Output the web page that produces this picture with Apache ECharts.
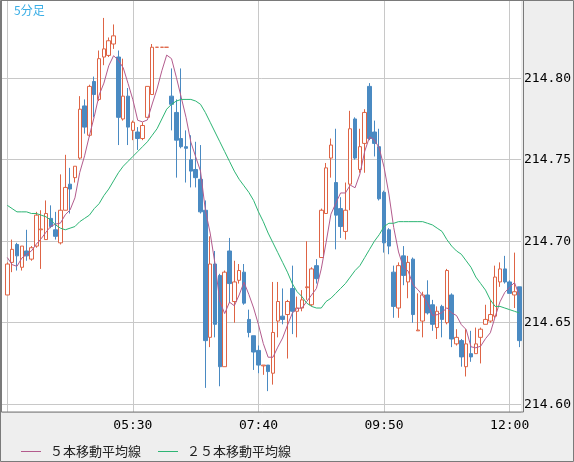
<!DOCTYPE html>
<html>
<head>
<meta charset="utf-8">
<script src="https://cdn.jsdelivr.net/npm/echarts@6/dist/echarts.min.js"></script>
<style>
  html, body { margin: 0; padding: 0; background: #eeeeee; }
  #chart { width: 574px; height: 462px; }
</style>
</head>
<body>
<div id="chart"></div>
<script>
// 5-minute bars 03:20 .. 12:10
const opens = [
  214.667, 214.687, 214.698, 214.684, 214.694, 214.689, 214.697, 214.707, 214.701, 214.714,
  214.707, 214.699, 214.719, 214.735, 214.739, 214.751, 214.783, 214.765, 214.798, 214.787,
  214.813, 214.814, 214.821, 214.813, 214.775, 214.789, 214.768, 214.767, 214.763, 214.776,
  214.790, 214.819, 214.819, 214.819, 214.789, 214.779, 214.763, 214.758, 214.750, 214.744,
  214.738, 214.719, 214.641, 214.686, 214.679, 214.623, 214.694, 214.663, 214.676, 214.681,
  214.652, 214.642, 214.633, 214.6235, 214.624, 214.619, 214.651, 214.654, 214.655, 214.671,
  214.657, 214.659, 214.6715, 214.661, 214.685, 214.690, 214.717, 214.751, 214.736, 214.720,
  214.706, 214.735, 214.775, 214.744, 214.760, 214.795, 214.767, 214.758, 214.730, 214.707,
  214.681, 214.659, 214.691, 214.675, 214.689, 214.645, 214.651, 214.667, 214.661, 214.647,
  214.660, 214.650, 214.667, 214.637, 214.639, 214.623, 214.631, 214.631, 214.641, 214.649,
  214.651, 214.654, 214.675, 214.683, 214.675, 214.667, 214.672
];
const closes = [
  214.686, 214.695, 214.691, 214.697, 214.691, 214.696, 214.716, 214.7075, 214.717, 214.709,
  214.703, 214.719, 214.733, 214.732, 214.746, 214.781, 214.770, 214.795, 214.790, 214.812,
  214.818, 214.823, 214.826, 214.776, 214.789, 214.770, 214.773, 214.763, 214.771, 214.795,
  214.819, 214.819, 214.819, 214.819, 214.784, 214.762, 214.758, 214.757, 214.743, 214.739,
  214.718, 214.639, 214.686, 214.649, 214.623, 214.681, 214.674, 214.675, 214.682, 214.662,
  214.644, 214.632, 214.624, 214.624, 214.620, 214.644, 214.663, 214.652, 214.663, 214.657,
  214.659, 214.664, 214.672, 214.683, 214.677, 214.719, 214.745, 214.759, 214.716, 214.709,
  214.719, 214.769, 214.751, 214.758, 214.779, 214.763, 214.760, 214.726, 214.699, 214.697,
  214.660, 214.685, 214.679, 214.687, 214.655, 214.6455, 214.667, 214.656, 214.649, 214.657,
  214.652, 214.682, 214.640, 214.641, 214.629, 214.637, 214.629, 214.637, 214.646, 214.652,
  214.655, 214.678, 214.683, 214.675, 214.668, 214.669, 214.639
];
const lows = [
  214.667, 214.681, 214.682, 214.682, 214.688, 214.688, 214.696, 214.683, 214.701, 214.708,
  214.701, 214.698, 214.719, 214.717, 214.736, 214.750, 214.766, 214.764, 214.776, 214.786,
  214.808, 214.813, 214.818, 214.759, 214.774, 214.759, 214.762, 214.756, 214.762, 214.776,
  214.790, 214.819, 214.819, 214.819, 214.768, 214.739, 214.757, 214.736, 214.733, 214.733,
  214.717, 214.610, 214.635, 214.641, 214.611, 214.623, 214.662, 214.650, 214.674, 214.661,
  214.641, 214.621, 214.619, 214.618, 214.608, 214.612, 214.641, 214.649, 214.628, 214.643,
  214.641, 214.657, 214.664, 214.660, 214.674, 214.690, 214.717, 214.739, 214.695, 214.702,
  214.701, 214.719, 214.750, 214.742, 214.742, 214.762, 214.752, 214.725, 214.693, 214.692,
  214.653, 214.653, 214.673, 214.665, 214.650, 214.645, 214.641, 214.655, 214.645, 214.640,
  214.641, 214.649, 214.635, 214.636, 214.623, 214.617, 214.626, 214.631, 214.625, 214.649,
  214.650, 214.653, 214.672, 214.674, 214.668, 214.659, 214.635
];
const highs = [
  214.687, 214.701, 214.699, 214.697, 214.707, 214.697, 214.718, 214.719, 214.725, 214.722,
  214.718, 214.741, 214.753, 214.745, 214.746, 214.789, 214.787, 214.796, 214.801, 214.817,
  214.837, 214.825, 214.833, 214.817, 214.812, 214.794, 214.774, 214.770, 214.773, 214.795,
  214.821, 214.819, 214.819, 214.819, 214.806, 214.787, 214.806, 214.768, 214.765, 214.761,
  214.759, 214.725, 214.703, 214.694, 214.680, 214.682, 214.702, 214.688, 214.686, 214.686,
  214.658, 214.642, 214.636, 214.624, 214.624, 214.675, 214.675, 214.671, 214.664, 214.685,
  214.666, 214.670, 214.700, 214.684, 214.689, 214.720, 214.748, 214.763, 214.769, 214.727,
  214.736, 214.780, 214.776, 214.769, 214.781, 214.797, 214.774, 214.769, 214.731, 214.708,
  214.685, 214.687, 214.697, 214.691, 214.690, 214.668, 214.669, 214.676, 214.664, 214.660,
  214.661, 214.683, 214.668, 214.646, 214.640, 214.646, 214.645, 214.647, 214.647, 214.661,
  214.664, 214.685, 214.687, 214.691, 214.676, 214.693, 214.672
];
// closes of the four bars before 03:20 (for the 5-bar average)
const prevCloses = [214.717, 214.696, 214.672, 214.679];
// 25-bar average
const ma25 = [
  214.722, 214.720, 214.718, 214.718, 214.718, 214.717, 214.717, 214.716, 214.715, 214.713,
  214.710, 214.708, 214.707, 214.708, 214.709, 214.712, 214.714, 214.716, 214.720, 214.723,
  214.728, 214.732, 214.737, 214.742, 214.746, 214.749, 214.752, 214.755, 214.758, 214.761,
  214.765, 214.769, 214.775, 214.781, 214.784, 214.786, 214.787, 214.787, 214.787, 214.786,
  214.784, 214.779, 214.773, 214.767, 214.761, 214.755, 214.749, 214.743, 214.738, 214.734,
  214.730, 214.725, 214.718, 214.712, 214.705, 214.699, 214.693, 214.687, 214.681, 214.674,
  214.669, 214.666, 214.662, 214.660, 214.659, 214.659, 214.663, 214.665, 214.668, 214.671,
  214.674, 214.678, 214.682, 214.685, 214.690, 214.695, 214.700, 214.704, 214.709, 214.711,
  214.711, 214.712, 214.712, 214.712, 214.712, 214.712, 214.712, 214.711, 214.710, 214.708,
  214.706, 214.701, 214.697, 214.694, 214.692, 214.688, 214.684, 214.678, 214.674, 214.670,
  214.664, 214.660, 214.660, 214.659, 214.658, 214.657, 214.656
];
const gridTimes = ['03:20', '05:30', '07:40', '09:50', '12:00'];
const tickLabels = ['05:30', '07:40', '09:50', '12:00'];
const priceMin = 214.5952;
const priceMax = 214.848;

const upColor = '#de6445';
const downColor = '#4a8ac2';
const ma5Color = '#b35b8d';
const ma25Color = '#2db574';
const gridColor = '#c8c8c8';
const frameColor = '#7a7a7a';

// one empty slot on each side: 03:15 and 12:15
const times = [];
for (let m = 3 * 60 + 15; m <= 12 * 60 + 15; m += 5) {
  times.push(String(Math.floor(m / 60)).padStart(2, '0') + ':' + String(m % 60).padStart(2, '0'));
}

const allCloses = prevCloses.concat(closes);
const ma5 = closes.map((c, i) => {
  let sum = 0;
  for (let k = i; k < i + 5; k++) sum += allCloses[k];
  return +(sum / 5).toFixed(4);
});

const empty = ['-', '-', '-', '-'];
const candleData = [empty].concat(opens.map((o, i) => [o, closes[i], lows[i], highs[i]]), [empty]);
const pad = arr => ['-'].concat(arr, ['-']);

const monoLabel = { color: '#000', fontFamily: 'DejaVu Sans Mono', fontSize: 13 };

const chart = echarts.init(document.getElementById('chart'), null, { renderer: 'canvas' });
chart.setOption({
  animation: false,
  backgroundColor: '#eeeeee',
  grid: [
    { left: 1.5, top: 0, right: 50.5, bottom: 50, show: true, backgroundColor: '#ffffff', borderWidth: 0 },
    { left: 2.47, top: 0, right: 49.87, bottom: 50 }
  ],
  xAxis: [
    { gridIndex: 0, type: 'value', show: false, min: 0, max: 1 },
    {
      gridIndex: 1,
      type: 'category',
      data: times,
      boundaryGap: false,
      axisLine: { show: false },
      axisTick: { show: false },
      axisLabel: Object.assign({ interval: (i, v) => tickLabels.includes(v), margin: 7 }, monoLabel),
      splitLine: { show: true, interval: (i, v) => gridTimes.includes(v), lineStyle: { color: gridColor } }
    }
  ],
  yAxis: [
    {
      gridIndex: 0,
      type: 'value',
      position: 'right',
      min: priceMin,
      max: priceMax,
      splitNumber: 5,
      axisLine: { show: false },
      axisTick: { show: false },
      axisLabel: Object.assign({
        margin: 3,
        showMinLabel: false,
        showMaxLabel: false,
        formatter: v => v.toFixed(2)
      }, monoLabel),
      splitLine: { lineStyle: { color: gridColor } }
    },
    { gridIndex: 1, type: 'value', min: priceMin, max: priceMax, show: false }
  ],
  legend: {
    left: 16,
    top: 440,
    icon: 'rect',
    itemWidth: 20,
    itemHeight: 1,
    itemGap: 17,
    selectedMode: false,
    textStyle: { color: '#222', fontSize: 13, fontFamily: 'Noto Sans CJK JP', padding: [0, 0, 0, 4] },
    data: ['５本移動平均線', '２５本移動平均線']
  },
  graphic: [
    {
      type: 'rect',
      z: 100,
      silent: true,
      shape: { x: 1.5, y: 0.5, width: 522, height: 411.5 },
      style: { fill: 'none', stroke: frameColor, lineWidth: 1 }
    },
    {
      type: 'rect',
      z: 100,
      silent: true,
      shape: { x: 0.5, y: 0.5, width: 573, height: 461 },
      style: { fill: 'none', stroke: frameColor, lineWidth: 1 }
    },
    {
      type: 'text',
      left: 14,
      top: 4,
      z: 100,
      style: { text: '5分足', fill: '#3aaee6', font: '12px "Noto Sans CJK JP"' }
    }
  ],
  series: [
    {
      type: 'candlestick',
      xAxisIndex: 1,
      yAxisIndex: 1,
      data: candleData,
      barWidth: 4,
      silent: true,
      itemStyle: {
        color: '#ffffff',
        color0: downColor,
        borderColor: upColor,
        borderColor0: downColor,
        borderWidth: 1
      }
    },
    {
      name: '５本移動平均線',
      type: 'line',
      xAxisIndex: 1,
      yAxisIndex: 1,
      data: pad(ma5),
      symbol: 'none',
      silent: true,
      color: ma5Color,
      lineStyle: { color: ma5Color, width: 1 },
      z: 3
    },
    {
      name: '２５本移動平均線',
      type: 'line',
      xAxisIndex: 1,
      yAxisIndex: 1,
      data: pad(ma25),
      symbol: 'none',
      silent: true,
      color: ma25Color,
      lineStyle: { color: ma25Color, width: 1 },
      z: 3
    }
  ]
});
</script>
</body>
</html>
